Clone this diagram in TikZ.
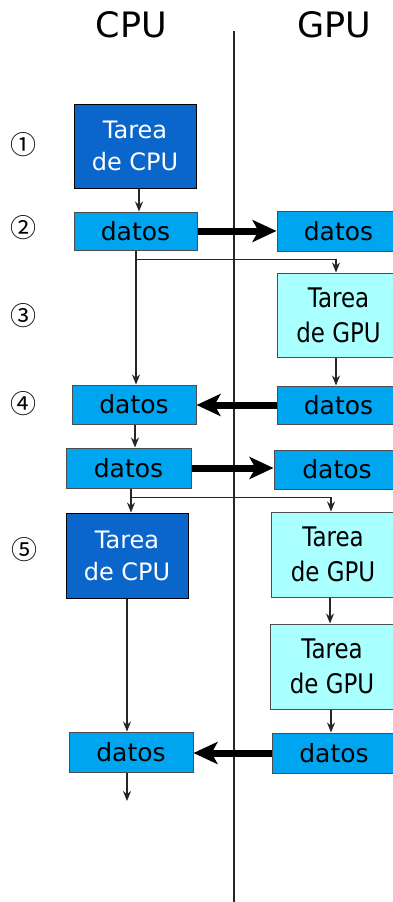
\documentclass[tikz,border=0pt]{standalone}
\usepackage{fontspec}
\setmainfont{DejaVu Sans}
\newfontfamily\condfont[FakeStretch=0.85]{DejaVu Sans}
\newfontfamily\cjkfont{Noto Sans CJK JP}
\usetikzlibrary{arrows.meta}
\definecolor{cpudark}{HTML}{0B66CC}
\definecolor{datosblue}{HTML}{00A5F0}
\definecolor{gpucyan}{HTML}{AAFFFF}
\begin{document}
\begin{tikzpicture}[x=1pt,y=-1pt,
 box/.style={draw=black!70, line width=1pt, rectangle, inner sep=0pt, align=center},
 cputask/.style={box, fill=cpudark, text=white, draw=black, font=\fontsize{24}{32}\selectfont},
 gputask/.style={box, fill=gpucyan, text=black, font=\condfont\fontsize{27}{35}\selectfont},
 datosbox/.style={box, fill=datosblue, text=black, font=\fontsize{25}{30}\selectfont},
 thinarrow/.style={draw=black!85, line width=1.2pt, -{Stealth[length=10pt,width=8pt]}},
 thickarrow/.style={line width=7pt, -{Stealth[length=24pt,width=22pt,inset=6pt]}},
 stepnum/.style={font=\cjkfont\fontsize{26}{26}\selectfont, inner sep=0pt},
 title/.style={font=\fontsize{35}{40}\selectfont}]
\useasboundingbox (0,0) rectangle (393,902);
\clip (0,0) rectangle (393,902);

% titles
\node[title] (cputitle) at (131.5,24.5) {CPU};
\node[title] (gputitle) at (334.5,24.5) {GPU};

% divider
\coordinate (divtop) at (234,31);
\coordinate (divbot) at (234,902);
\draw[line width=1.2pt, black!85] (divtop) -- (divbot);

% step numbers
\node[stepnum] (s1) at (23,145) {①};
\node[stepnum] (s2) at (23,228) {②};
\node[stepnum] (s3) at (23,316) {③};
\node[stepnum] (s4) at (23,404) {④};
\node[stepnum] (s5) at (24,550) {⑤};

% boxes
\node[cputask, minimum width=122pt, minimum height=84pt] (t1) at (135,146) {Tarea\\de CPU};
\node[datosbox, minimum width=123pt, minimum height=38pt] (d2c) at (135.5,231) {datos};
\node[datosbox, minimum width=123pt, minimum height=40pt] (d2g) at (338.5,231) {datos};
\node[gputask, minimum width=123pt, minimum height=84pt] (g3) at (338.5,315) {Tarea\\de GPU};
\node[datosbox, minimum width=123pt, minimum height=38pt] (d4g) at (338.5,405) {datos};
\node[datosbox, minimum width=124pt, minimum height=39pt] (d4c) at (134,404.5) {datos};
\node[datosbox, minimum width=125pt, minimum height=40pt] (d5c) at (128.5,468) {datos};
\node[datosbox, minimum width=126pt, minimum height=39pt] (d5g) at (337,469.5) {datos};
\node[cputask, minimum width=122pt, minimum height=85pt] (c5) at (127,555.5) {Tarea\\de CPU};
\node[gputask, minimum width=124pt, minimum height=85pt] (g5a) at (333,554.5) {Tarea\\de GPU};
\node[gputask, minimum width=124pt, minimum height=85pt] (g5b) at (332,666.5) {Tarea\\de GPU};
\node[datosbox, minimum width=124pt, minimum height=40pt] (d6g) at (334,753) {datos};
\node[datosbox, minimum width=124pt, minimum height=40pt] (d6c) at (131,752) {datos};
\coordinate (endpt) at (127,801);

% thin connectors
\draw[thinarrow] ([xshift=4pt]t1.south) -- ([xshift=4pt]t1.south |- d2c.north);
\draw[thinarrow] ([xshift=0.5pt]d2c.south) -- ([xshift=0.5pt]d2c.south |- d4c.north);
\draw[thinarrow] ([xshift=0.5pt]d2c.south) -- ++(0,9) -| ([xshift=-2.5pt]g3.north);
\draw[thinarrow] ([xshift=-2.5pt]g3.south) -- ([xshift=-2.5pt]g3.south |- d4g.north);
\draw[thinarrow] ([xshift=1pt]d4c.south) -- ([xshift=1pt]d4c.south |- d5c.north);
\draw[thinarrow] ([xshift=2.5pt]d5c.south) -- ([xshift=2.5pt]d5c.south |- c5.north);
\draw[thinarrow] ([xshift=2.5pt]d5c.south) -- ++(0,9) -| ([xshift=-2pt]g5a.north);
\draw[thinarrow] ([xshift=-3pt]g5a.south) -- ([xshift=-3pt]g5a.south |- g5b.north);
\draw[thinarrow] ([xshift=-1pt]g5b.south) -- ([xshift=-1pt]g5b.south |- d6g.north);
\draw[thinarrow] (c5.south) -- (c5.south |- d6c.north);
\draw[thinarrow] ([xshift=-4pt]d6c.south) -- (endpt);

% thick transfers
\draw[thickarrow] (d2c.east) -- (d2c.east -| d2g.west);
\draw[thickarrow] (d4g.west) -- (d4g.west -| d4c.east);
\draw[thickarrow] (d5c.east) -- (d5c.east -| d5g.west);
\draw[thickarrow] (d6g.west) -- (d6g.west -| d6c.east);
\end{tikzpicture}
\end{document}
